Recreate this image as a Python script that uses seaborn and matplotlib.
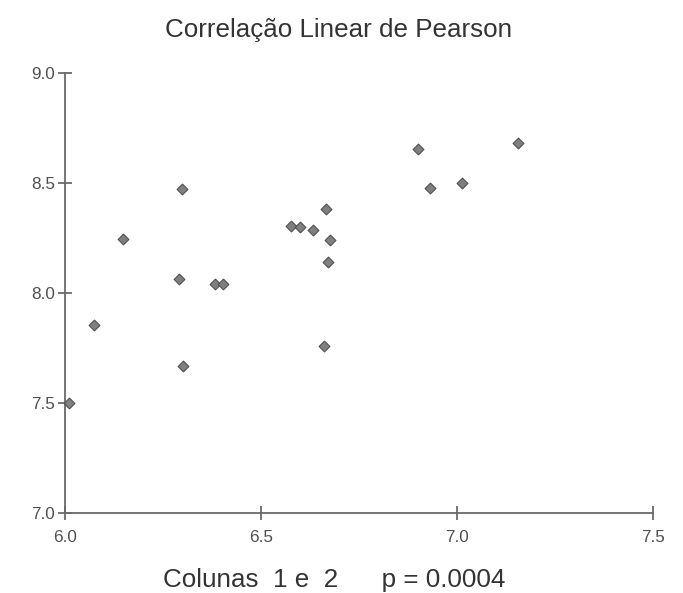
import matplotlib
matplotlib.use("Agg")
import matplotlib.pyplot as plt
import seaborn as sns
import pandas as pd

# valores (coluna 1 x coluna 2)
col1 = [6.01, 6.074, 6.148, 6.291, 6.298, 6.302, 6.383, 6.404,
        6.577, 6.600, 6.633, 6.667, 6.675, 6.670, 6.660,
        6.900, 6.932, 7.014, 7.156]
col2 = [7.50, 7.855, 8.245, 8.064, 8.471, 7.668, 8.041, 8.041,
        8.306, 8.301, 8.285, 8.380, 8.241, 8.142, 7.760,
        8.655, 8.477, 8.501, 8.682]

x_ticks = [6.0, 6.5, 7.0, 7.5]
y_ticks = [7.0, 7.5, 8.0, 8.5, 9.0]
title = "Correlação Linear de Pearson"
footer = "Colunas  1 e  2      p = 0.0004"

df = pd.DataFrame({"col1": col1, "col2": col2})

sns.set_style("white")
plt.rcParams["font.family"] = ["Liberation Sans", "DejaVu Sans"]

fig = plt.figure(figsize=(6.83, 5.93), dpi=100)
ax = fig.add_axes([65 / 683, 80 / 593, 588 / 683, 440 / 593])

sns.scatterplot(data=df, x="col1", y="col2", ax=ax, marker="D", s=30,
                color="#808080", edgecolor="#505050", linewidth=0.8,
                clip_on=False, zorder=3)

ax.set_xlim(6.0, 7.5)
ax.set_ylim(7.0, 9.0)
ax.set_xticks(x_ticks)
ax.set_yticks(y_ticks)
ax.set_xticklabels([f"{v:.1f}" for v in x_ticks])
ax.set_yticklabels([f"{v:.1f}" for v in y_ticks])
ax.set_xlabel("")
ax.set_ylabel("")

for side in ["top", "right"]:
    ax.spines[side].set_visible(False)
for side in ["left", "bottom"]:
    ax.spines[side].set_color("#6a6a6a")
    ax.spines[side].set_linewidth(1.3)

ax.tick_params(axis="both", direction="inout", length=10, width=1.3,
               color="#6a6a6a", labelcolor="#505050", labelsize=12.3,
               bottom=True, left=True)
ax.tick_params(axis="x", pad=7)
ax.tick_params(axis="y", pad=2)

fig.text(338.5 / 683, 1 - 30 / 593, title, ha="center", va="center",
         fontsize=18.7, color="#333333")
fig.text(334 / 683, 1 - 580 / 593, footer, ha="center", va="center",
         fontsize=18.7, color="#333333")

fig.savefig("out.png", dpi=100)
plt.close(fig)
